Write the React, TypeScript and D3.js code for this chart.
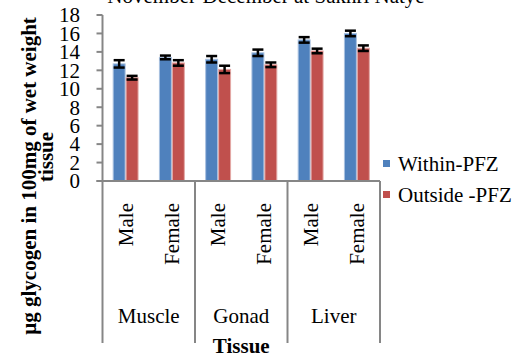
import React from "react";
import * as d3 from "d3";

const tissues = ["Muscle", "Gonad", "Liver"];
const sexes = ["Male", "Female"];
const seriesNames = ["Within-PFZ", "Outside -PFZ"];
const seriesColors = ["#4F81BD", "#C0504D"];
const withinValues = [12.7, 13.4, 13.2, 13.9, 15.3, 16.0];
const withinErrors = [0.4, 0.2, 0.35, 0.35, 0.3, 0.3];
const outsideValues = [11.2, 12.8, 12.1, 12.6, 14.1, 14.4];
const outsideErrors = [0.2, 0.3, 0.4, 0.25, 0.25, 0.3];
const yTicks = [0, 2, 4, 6, 8, 10, 12, 14, 16, 18];
const title = "November-December at Sakhri Natye";

const W = 522;
const H = 359;
const FONT = "'Liberation Serif', 'Times New Roman', serif";

export default function App() {
  const left = 102.5;
  const right = 380;
  const top = 15;
  const bottom = 181;
  const axisColor = "#868686";

  const cats = tissues.flatMap((t) => sexes.map((s) => `${t}|${s}`));
  const x = d3.scaleBand<string>().domain(cats).range([left, right]).paddingInner(0.44).paddingOuter(0.22);
  const xs = d3.scaleBand<string>().domain(seriesNames).range([0, x.bandwidth()]);
  const xg = d3.scaleBand<string>().domain(tissues).range([left, right]);
  const y = d3.scaleLinear().domain([0, 18]).range([bottom, top]);

  const series = [
    { name: seriesNames[0], values: withinValues, errors: withinErrors, color: seriesColors[0], stroke: "#A9C1E0" },
    { name: seriesNames[1], values: outsideValues, errors: outsideErrors, color: seriesColors[1], stroke: "#E3A8A6" },
  ];

  const capW = 11;
  const lineBottom = 343;

  return (
    <svg width={W} height={H} style={{ position: "absolute", left: 0, top: 0, background: "#fff" }} fontFamily={FONT}>
      <text x={266} y={3} fontSize={21} textAnchor="middle" fill="#000">{title}</text>

      {/* bars */}
      {series.map((s) =>
        cats.map((c, i) => {
          const bx = (x(c) as number) + (xs(s.name) as number);
          const bw = xs.bandwidth();
          const v = s.values[i];
          return (
            <rect key={s.name + c} x={bx + 0.5} y={y(v)} width={bw - 1} height={y(0) - y(v)} fill={s.color} stroke={s.stroke} strokeWidth={1} />
          );
        })
      )}
      {/* error bars */}
      {series.map((s) =>
        cats.map((c, i) => {
          const cx = (x(c) as number) + (xs(s.name) as number) + xs.bandwidth() / 2;
          const v = s.values[i];
          const e = s.errors[i];
          return (
            <g key={"e" + s.name + c} stroke="#000" strokeWidth={2.5}>
              <line x1={cx} x2={cx} y1={y(v + e)} y2={y(v - e)} />
              <line x1={cx - capW / 2} x2={cx + capW / 2} y1={y(v + e)} y2={y(v + e)} />
              <line x1={cx - capW / 2} x2={cx + capW / 2} y1={y(v - e)} y2={y(v - e)} />
            </g>
          );
        })
      )}

      {/* y axis */}
      <line x1={left} x2={left} y1={top} y2={bottom} stroke={axisColor} strokeWidth={2} />
      {yTicks.map((t) => (
        <g key={t}>
          <line x1={left - 6} x2={left} y1={y(t)} y2={y(t)} stroke={axisColor} strokeWidth={2} />
          <text x={80} y={y(t)} dy="0.35em" fontSize={21} textAnchor="end" fill="#000">{t}</text>
        </g>
      ))}

      {/* x axis */}
      <line x1={left - 6} x2={right} y1={bottom} y2={bottom} stroke={axisColor} strokeWidth={2} />
      {tissues.map((t) => (
        <line key={"sep" + t} x1={xg(t)} x2={xg(t)} y1={bottom} y2={lineBottom} stroke={axisColor} strokeWidth={2} />
      ))}
      <line x1={right} x2={right} y1={bottom} y2={lineBottom} stroke={axisColor} strokeWidth={2} />

      {cats.map((c) => {
        const cx = (x(c) as number) + x.bandwidth() / 2;
        const label = c.split("|")[1];
        return (
          <text key={"l" + c} transform={`translate(${cx + 7},203) rotate(-90)`} fontSize={21} textAnchor="end" fill="#000">{label}</text>
        );
      })}
      {tissues.map((t) => (
        <text key={"g" + t} x={(xg(t) as number) + xg.bandwidth() / 2} y={323} fontSize={21} textAnchor="middle" fill="#000">{t}</text>
      ))}

      <text x={(left + right) / 2} y={353} fontSize={21} fontWeight="bold" textAnchor="middle" fill="#000">Tissue</text>

      <text transform="translate(36,176) rotate(-90)" fontSize={21} fontWeight="bold" textAnchor="middle" fill="#000">µg glycogen in 100mg of wet weight</text>
      <text transform="translate(53,157) rotate(-90)" fontSize={21} fontWeight="bold" textAnchor="middle" fill="#000">tissue</text>

      {/* legend */}
      {series.map((s, i) => (
        <g key={"lg" + s.name} transform={`translate(383,${160 + i * 31})`}>
          <rect x={0} y={0} width={7} height={7} fill={s.color} />
          <text x={15} y={11} fontSize={21} fill="#000">{s.name}</text>
        </g>
      ))}
    </svg>
  );
}
